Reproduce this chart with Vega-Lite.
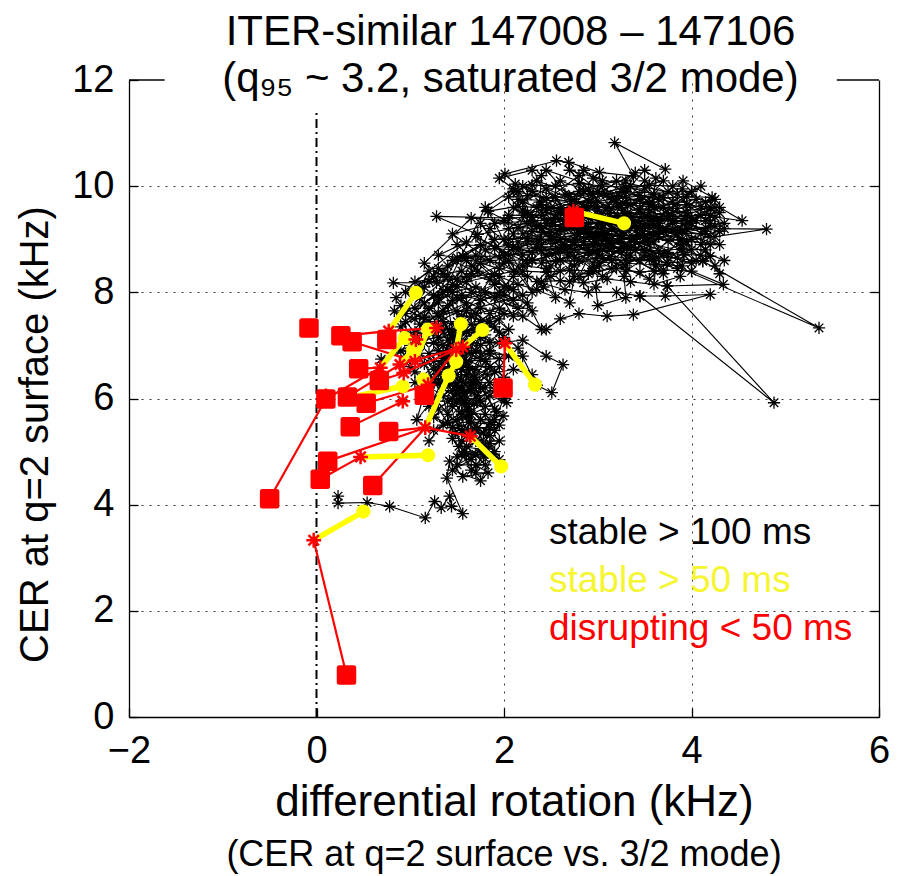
{
"$schema": "https://vega.github.io/schema/vega-lite/v6.json",
"width": 750, "height": 637,
"autosize": "none",
"padding": {"left": 129, "top": 80, "right": 24, "bottom": 159},
"background": "white",
"config": {"font": "Liberation Sans", "view": {"stroke": null}},
"title": {"text": "(CER at q=2 surface vs. 3/2 mode)", "orient": "bottom", "anchor": "middle", "frame": "group", "fontSize": 36, "fontWeight": "normal", "color": "#000", "offset": 14},
"datasets": {
"black": [
{"g":1,"x":0.23,"y":4.16},{"g":1,"x":0.23,"y":4.03},{"g":1,"x":0.54,"y":4.04},{"g":1,"x":0.78,"y":3.97},{"g":1,"x":1.16,"y":3.75},{"g":1,"x":1.26,"y":4.06},{"g":1,"x":1.33,"y":3.94},{"g":1,"x":1.42,"y":4.16},{"g":1,"x":1.44,"y":3.97},{"g":1,"x":1.56,"y":3.83},{"g":1,"x":1.39,"y":4.5},{"g":1,"x":1.42,"y":4.82},{"g":1,"x":1.56,"y":4.53},{"g":1,"x":1.83,"y":4.6},{"g":1,"x":1.7,"y":4.75},{"g":1,"x":1.6,"y":4.95},{"g":1,"x":1.75,"y":5.05},{"g":1,"x":1.52,"y":5.1},{"g":1,"x":1.65,"y":5.3},{"g":1,"x":1.85,"y":5.15},{"g":1,"x":1.95,"y":4.85},{"g":1,"x":1.78,"y":4.9},{"g":1,"x":1.62,"y":5.55},{"g":1,"x":1.48,"y":5.35},{"g":1,"x":1.58,"y":5.0},{"g":1,"x":1.72,"y":5.45},{"g":1,"x":1.9,"y":5.4},{"g":1,"x":1.99,"y":5.67},{"g":1,"x":1.8,"y":5.7},{"g":1,"x":1.55,"y":5.75},{"g":1,"x":1.4,"y":5.55},{"g":1,"x":1.3,"y":5.8},{"g":1,"x":1.45,"y":6.0},{"g":1,"x":1.68,"y":5.9},{"g":1,"x":1.85,"y":6.05},{"g":1,"x":2.03,"y":5.92},{"g":1,"x":1.95,"y":6.3},{"g":1,"x":1.75,"y":6.2},{"g":1,"x":1.55,"y":6.35},{"g":1,"x":1.35,"y":6.2},{"g":1,"x":1.2,"y":6.4},{"g":1,"x":1.07,"y":5.6},{"g":1,"x":1.25,"y":6.0},{"g":1,"x":1.4,"y":6.55},{"g":1,"x":1.62,"y":6.6},{"g":1,"x":1.82,"y":6.45},{"g":1,"x":2.1,"y":6.55},{"g":1,"x":2.3,"y":6.45},{"g":1,"x":2.05,"y":6.8},{"g":1,"x":1.85,"y":6.9},{"g":1,"x":1.65,"y":6.85},{"g":1,"x":1.45,"y":6.75},{"g":1,"x":1.25,"y":6.7},{"g":1,"x":1.1,"y":6.85},{"g":1,"x":1.0,"y":6.6},{"g":1,"x":1.15,"y":7.05},{"g":1,"x":1.35,"y":7.0},{"g":1,"x":1.55,"y":7.1},{"g":1,"x":1.75,"y":7.15},{"g":1,"x":1.95,"y":7.05},{"g":1,"x":2.2,"y":7.1},{"g":1,"x":2.45,"y":6.8},{"g":1,"x":2.63,"y":6.64},{"g":1,"x":2.51,"y":6.11},{"g":1,"x":2.35,"y":6.25},{"g":1,"x":2.15,"y":6.95},{"g":1,"x":1.9,"y":7.35},{"g":1,"x":1.65,"y":7.4},{"g":1,"x":1.42,"y":7.3},{"g":1,"x":1.2,"y":7.25},{"g":1,"x":1.0,"y":7.2},{"g":1,"x":0.83,"y":7.65},{"g":1,"x":1.05,"y":7.5},{"g":1,"x":1.3,"y":7.55},{"g":1,"x":1.5,"y":7.65},{"g":1,"x":1.7,"y":7.6},{"g":1,"x":1.95,"y":7.7},{"g":1,"x":2.2,"y":7.55},{"g":1,"x":2.4,"y":7.3},{"g":1,"x":2.25,"y":7.8},{"g":1,"x":2.0,"y":7.95},{"g":1,"x":1.75,"y":7.85},{"g":1,"x":1.55,"y":7.95},{"g":1,"x":1.3,"y":7.9},{"g":1,"x":1.1,"y":8.06},{"g":1,"x":0.82,"y":8.18},{"g":1,"x":1.28,"y":8.18},{"g":1,"x":1.5,"y":8.25},{"g":1,"x":1.56,"y":8.68},{"g":1,"x":1.72,"y":8.4},{"g":1,"x":1.95,"y":8.3},{"g":1,"x":2.15,"y":8.15},{"g":1,"x":2.35,"y":8.05},{"g":1,"x":2.55,"y":7.9},{"g":1,"x":2.45,"y":8.45},{"g":1,"x":2.2,"y":8.5},{"g":1,"x":1.95,"y":8.65},{"g":1,"x":1.8,"y":8.8},{"g":1,"x":2.05,"y":8.9},{"g":1,"x":2.3,"y":8.75},
{"g":2,"x":1.15,"y":6.15},{"g":2,"x":1.5,"y":6.45},{"g":2,"x":1.3,"y":6.9},{"g":2,"x":1.7,"y":6.55},{"g":2,"x":1.45,"y":5.85},{"g":2,"x":1.9,"y":6.15},{"g":2,"x":1.6,"y":5.65},{"g":2,"x":1.25,"y":5.4},{"g":2,"x":1.75,"y":5.95},{"g":2,"x":1.55,"y":6.95},{"g":2,"x":1.35,"y":7.45},{"g":2,"x":1.8,"y":7.2},{"g":2,"x":1.1,"y":7.4},{"g":2,"x":1.6,"y":7.8},{"g":2,"x":1.4,"y":7.1},{"g":2,"x":1.95,"y":7.5},{"g":2,"x":1.25,"y":6.55},{"g":2,"x":1.65,"y":6.25},{"g":2,"x":1.85,"y":5.55},{"g":2,"x":1.7,"y":5.2},{"g":2,"x":1.5,"y":4.9},{"g":2,"x":1.88,"y":4.95},{"g":2,"x":1.65,"y":4.65},{"g":2,"x":1.45,"y":5.25},{"g":2,"x":1.35,"y":6.05},{"g":2,"x":1.15,"y":6.65},{"g":2,"x":1.05,"y":6.95},{"g":2,"x":0.69,"y":6.74},{"g":2,"x":0.9,"y":6.9},{"g":2,"x":1.5,"y":7.45},{"g":2,"x":1.75,"y":7.0},{"g":2,"x":2.05,"y":7.3},{"g":2,"x":1.85,"y":7.6},{"g":2,"x":1.6,"y":7.25},{"g":2,"x":1.2,"y":7.7},{"g":2,"x":1.45,"y":8.0},{"g":2,"x":1.7,"y":8.1},{"g":2,"x":2.1,"y":7.85},{"g":2,"x":1.9,"y":8.15},{"g":2,"x":1.4,"y":7.75},{"g":2,"x":1.58,"y":6.1},{"g":2,"x":1.8,"y":6.7},{"g":2,"x":2.0,"y":6.4},{"g":2,"x":1.62,"y":5.8},{"g":2,"x":1.42,"y":6.3},{"g":2,"x":1.28,"y":5.95},{"g":2,"x":1.52,"y":5.5},{"g":2,"x":1.78,"y":5.35},{"g":2,"x":1.92,"y":5.75},{"g":2,"x":1.68,"y":6.4},{"g":2,"x":1.48,"y":6.65},{"g":2,"x":1.3,"y":7.15},{"g":2,"x":1.12,"y":7.1},{"g":2,"x":0.95,"y":7.45},{"g":2,"x":1.25,"y":7.95},{"g":2,"x":1.55,"y":8.4},{"g":2,"x":1.35,"y":8.35},{"g":2,"x":1.8,"y":8.0},{"g":2,"x":2.3,"y":7.65},{"g":2,"x":2.05,"y":8.1},{"g":2,"x":1.75,"y":8.55},{"g":2,"x":1.95,"y":8.45},{"g":2,"x":2.25,"y":8.3},
{"g":3,"x":1.2,"y":5.2},{"g":3,"x":1.6,"y":6.0},{"g":3,"x":1.35,"y":6.6},{"g":3,"x":1.95,"y":6.6},{"g":3,"x":1.5,"y":5.6},{"g":3,"x":1.7,"y":7.3},{"g":3,"x":1.05,"y":6.3},{"g":3,"x":1.85,"y":6.3},{"g":3,"x":1.4,"y":6.9},{"g":3,"x":2.2,"y":6.8},{"g":3,"x":1.6,"y":6.7},{"g":3,"x":1.3,"y":6.35},{"g":3,"x":1.75,"y":5.6},{"g":3,"x":1.55,"y":5.2},{"g":3,"x":1.95,"y":5.2},{"g":3,"x":1.65,"y":4.85},{"g":3,"x":1.45,"y":4.65},{"g":3,"x":1.75,"y":4.45},{"g":3,"x":1.9,"y":5.0},{"g":3,"x":1.55,"y":5.4},{"g":3,"x":1.25,"y":5.65},{"g":3,"x":1.65,"y":6.15},{"g":3,"x":1.2,"y":6.85},{"g":3,"x":1.5,"y":7.2},{"g":3,"x":1.85,"y":7.45},{"g":3,"x":1.35,"y":7.65},{"g":3,"x":1.65,"y":8.0},{"g":3,"x":2.15,"y":7.7},{"g":3,"x":1.9,"y":7.9},{"g":3,"x":1.45,"y":8.15},{"g":3,"x":1.15,"y":7.8},{"g":3,"x":0.95,"y":8.0},{"g":3,"x":1.4,"y":8.5},{"g":3,"x":1.7,"y":8.7},{"g":3,"x":2.4,"y":8.2},{"g":3,"x":2.6,"y":8.4},
{"g":4,"x":2.45,"y":7.3},{"g":4,"x":2.6,"y":7.5},{"g":4,"x":2.8,"y":7.6},{"g":4,"x":3.1,"y":7.55},{"g":4,"x":3.38,"y":7.58},{"g":4,"x":4.2,"y":7.96},{"g":4,"x":3.72,"y":7.93},{"g":4,"x":3.45,"y":7.93},{"g":4,"x":3.2,"y":8.0},{"g":4,"x":2.9,"y":8.0},{"g":4,"x":2.65,"y":8.05},{"g":4,"x":2.35,"y":8.2},{"g":4,"x":2.6,"y":8.22},{"g":4,"x":2.85,"y":8.18},{"g":4,"x":3.1,"y":8.25},{"g":4,"x":3.35,"y":8.2},{"g":4,"x":3.74,"y":8.12},{"g":4,"x":4.34,"y":8.15},{"g":4,"x":4.0,"y":8.4},{"g":4,"x":3.7,"y":8.42},{"g":4,"x":3.45,"y":8.38},{"g":4,"x":3.2,"y":8.45},{"g":4,"x":2.95,"y":8.4},{"g":4,"x":2.7,"y":8.42},{"g":4,"x":2.45,"y":8.38},{"g":4,"x":2.2,"y":8.4},{"g":4,"x":2.05,"y":8.6},{"g":4,"x":2.3,"y":8.62},{"g":4,"x":2.55,"y":8.58},{"g":4,"x":2.8,"y":8.6},{"g":4,"x":3.05,"y":8.65},{"g":4,"x":3.3,"y":8.6},{"g":4,"x":3.55,"y":8.62},{"g":4,"x":3.74,"y":8.56},{"g":4,"x":4.12,"y":8.59},{"g":4,"x":4.2,"y":8.68},{"g":4,"x":4.15,"y":8.8},{"g":4,"x":3.9,"y":8.82},{"g":4,"x":3.65,"y":8.78},{"g":4,"x":3.4,"y":8.8},{"g":4,"x":3.15,"y":8.85},{"g":4,"x":2.9,"y":8.8},{"g":4,"x":2.65,"y":8.82},{"g":4,"x":2.4,"y":8.78},{"g":4,"x":2.15,"y":8.8},{"g":4,"x":1.9,"y":8.82},{"g":4,"x":2.0,"y":9.0},{"g":4,"x":2.25,"y":9.02},{"g":4,"x":2.5,"y":8.98},{"g":4,"x":2.75,"y":9.0},{"g":4,"x":3.0,"y":9.05},{"g":4,"x":3.25,"y":9.0},{"g":4,"x":3.5,"y":9.02},{"g":4,"x":3.75,"y":8.98},{"g":4,"x":4.0,"y":9.0},{"g":4,"x":4.25,"y":9.05},{"g":4,"x":4.8,"y":9.19},{"g":4,"x":4.35,"y":9.2},{"g":4,"x":4.15,"y":9.22},{"g":4,"x":3.9,"y":9.18},{"g":4,"x":3.65,"y":9.2},{"g":4,"x":3.4,"y":9.25},{"g":4,"x":3.15,"y":9.2},{"g":4,"x":2.9,"y":9.22},{"g":4,"x":2.65,"y":9.18},{"g":4,"x":2.4,"y":9.2},{"g":4,"x":2.15,"y":9.22},{"g":4,"x":1.72,"y":9.09},{"g":4,"x":1.28,"y":9.43},{"g":4,"x":2.05,"y":9.4},{"g":4,"x":2.3,"y":9.42},{"g":4,"x":2.5,"y":9.38},{"g":4,"x":2.75,"y":9.4},{"g":4,"x":3.0,"y":9.45},{"g":4,"x":3.25,"y":9.4},{"g":4,"x":3.5,"y":9.42},{"g":4,"x":3.75,"y":9.38},{"g":4,"x":4.0,"y":9.4},{"g":4,"x":4.25,"y":9.42},{"g":4,"x":4.54,"y":9.35},{"g":4,"x":4.3,"y":9.6},{"g":4,"x":4.1,"y":9.62},{"g":4,"x":3.85,"y":9.58},{"g":4,"x":3.6,"y":9.6},{"g":4,"x":3.35,"y":9.65},{"g":4,"x":3.1,"y":9.6},{"g":4,"x":2.85,"y":9.62},{"g":4,"x":2.6,"y":9.58},{"g":4,"x":2.35,"y":9.6},{"g":4,"x":2.15,"y":9.62},{"g":4,"x":1.83,"y":9.53},{"g":4,"x":2.05,"y":9.8},{"g":4,"x":2.25,"y":9.82},{"g":4,"x":2.45,"y":9.78},{"g":4,"x":2.7,"y":9.8},{"g":4,"x":2.95,"y":9.85},{"g":4,"x":3.2,"y":9.8},{"g":4,"x":3.45,"y":9.82},{"g":4,"x":3.7,"y":9.78},{"g":4,"x":3.95,"y":9.8},{"g":4,"x":4.22,"y":9.79},{"g":4,"x":3.91,"y":10.1},{"g":4,"x":3.8,"y":10.0},{"g":4,"x":3.55,"y":10.02},{"g":4,"x":3.3,"y":9.98},{"g":4,"x":3.05,"y":10.0},{"g":4,"x":2.8,"y":10.05},{"g":4,"x":2.55,"y":10.0},{"g":4,"x":2.3,"y":10.02},{"g":4,"x":2.12,"y":10.04},{"g":4,"x":2.01,"y":10.23},{"g":4,"x":2.56,"y":10.48},{"g":4,"x":2.69,"y":10.45},{"g":4,"x":3.02,"y":10.26},{"g":4,"x":3.38,"y":10.19},{"g":4,"x":3.18,"y":10.82},{"g":4,"x":3.72,"y":10.32},
{"g":5,"x":2.1,"y":8.3},{"g":5,"x":2.2,"y":8.7},{"g":5,"x":2.1,"y":9.1},{"g":5,"x":2.25,"y":9.5},{"g":5,"x":2.15,"y":9.9},{"g":5,"x":2.4,"y":10.2},{"g":5,"x":2.38,"y":9.7},{"g":5,"x":2.45,"y":9.3},{"g":5,"x":2.35,"y":8.9},{"g":5,"x":2.5,"y":8.5},{"g":5,"x":2.42,"y":8.1},{"g":5,"x":2.7,"y":7.8},{"g":5,"x":2.75,"y":8.3},{"g":5,"x":2.68,"y":8.7},{"g":5,"x":2.78,"y":9.1},{"g":5,"x":2.72,"y":9.5},{"g":5,"x":2.8,"y":9.9},{"g":5,"x":2.85,"y":10.3},{"g":5,"x":3.05,"y":10.1},{"g":5,"x":2.98,"y":9.7},{"g":5,"x":3.08,"y":9.3},{"g":5,"x":2.95,"y":8.9},{"g":5,"x":3.02,"y":8.5},{"g":5,"x":2.98,"y":8.1},{"g":5,"x":3.0,"y":7.75},{"g":5,"x":3.3,"y":7.9},{"g":5,"x":3.28,"y":8.3},{"g":5,"x":3.35,"y":8.7},{"g":5,"x":3.25,"y":9.1},{"g":5,"x":3.32,"y":9.5},{"g":5,"x":3.3,"y":9.9},{"g":5,"x":3.5,"y":10.3},{"g":5,"x":3.62,"y":10.15},{"g":5,"x":3.58,"y":9.7},{"g":5,"x":3.65,"y":9.3},{"g":5,"x":3.55,"y":8.9},{"g":5,"x":3.62,"y":8.5},{"g":5,"x":3.6,"y":8.15},{"g":5,"x":3.88,"y":8.3},{"g":5,"x":3.92,"y":8.7},{"g":5,"x":3.85,"y":9.1},{"g":5,"x":3.95,"y":9.5},{"g":5,"x":3.9,"y":9.95},{"g":5,"x":4.15,"y":9.7},{"g":5,"x":4.2,"y":9.3},{"g":5,"x":4.1,"y":8.9},{"g":5,"x":4.25,"y":8.5},{"g":5,"x":4.3,"y":8.35},
{"g":6,"x":3.74,"y":8.56},{"g":6,"x":5.36,"y":7.33},{"g":6,"x":4.12,"y":8.59},
{"g":7,"x":3.45,"y":7.93},{"g":7,"x":4.88,"y":5.92},{"g":7,"x":3.74,"y":8.12},
{"g":8,"x":2.1,"y":9.9},{"g":8,"x":4.0,"y":9.3},{"g":8,"x":2.3,"y":8.6},{"g":8,"x":4.2,"y":9.6},{"g":8,"x":2.6,"y":9.2},{"g":8,"x":4.3,"y":8.9},{"g":8,"x":2.2,"y":10.0},{"g":8,"x":3.6,"y":8.4},{"g":8,"x":2.5,"y":9.6},{"g":8,"x":4.1,"y":9.1},{"g":8,"x":1.9,"y":9.3},{"g":8,"x":3.8,"y":9.5},{"g":8,"x":2.8,"y":8.3},{"g":8,"x":3.3,"y":10.1},{"g":8,"x":2.4,"y":8.9},{"g":8,"x":4.25,"y":9.25},{"g":8,"x":2.0,"y":8.7},{"g":8,"x":3.5,"y":8.8},{"g":8,"x":2.9,"y":9.7},{"g":8,"x":4.35,"y":8.6},
{"g":9,"x":1.56,"y":8.68},{"g":9,"x":1.9,"y":9.0},{"g":9,"x":1.6,"y":8.2},{"g":9,"x":2.1,"y":8.4},{"g":9,"x":1.75,"y":9.3},{"g":9,"x":2.3,"y":8.0},{"g":9,"x":1.83,"y":9.53},{"g":9,"x":2.6,"y":8.8},{"g":9,"x":1.5,"y":8.9},{"g":9,"x":2.0,"y":8.1},{"g":9,"x":2.4,"y":9.0},{"g":9,"x":1.65,"y":8.5},
{"g":10,"x":2.2,"y":9.7},{"g":10,"x":2.9,"y":9.3},{"g":10,"x":2.45,"y":8.7},{"g":10,"x":3.4,"y":9.0},{"g":10,"x":2.7,"y":9.65},{"g":10,"x":3.6,"y":9.85},{"g":10,"x":3.1,"y":8.95},{"g":10,"x":3.85,"y":8.65},{"g":10,"x":3.2,"y":9.35},{"g":10,"x":2.35,"y":9.25},{"g":10,"x":2.95,"y":8.55},{"g":10,"x":3.7,"y":9.15},{"g":10,"x":4.05,"y":9.75},{"g":10,"x":3.45,"y":9.55},{"g":10,"x":2.6,"y":10.1},{"g":10,"x":2.1,"y":9.6},{"g":10,"x":2.75,"y":8.9},{"g":10,"x":3.55,"y":8.25},{"g":10,"x":3.95,"y":8.95},{"g":10,"x":3.3,"y":9.7},{"g":10,"x":2.5,"y":9.05},{"g":10,"x":3.15,"y":8.45},{"g":10,"x":3.8,"y":9.35},{"g":10,"x":4.2,"y":9.05},{"g":10,"x":3.5,"y":9.95},{"g":10,"x":2.85,"y":9.5},{"g":10,"x":2.25,"y":8.95},{"g":10,"x":3.05,"y":9.15},{"g":10,"x":3.75,"y":8.75},{"g":10,"x":4.1,"y":9.45},{"g":10,"x":3.35,"y":8.85},{"g":10,"x":2.65,"y":9.35},{"g":10,"x":2.05,"y":9.2},{"g":10,"x":2.8,"y":10.2},{"g":10,"x":3.25,"y":9.6},{"g":10,"x":3.9,"y":9.0},{"g":10,"x":4.3,"y":9.15},{"g":10,"x":3.6,"y":9.4},{"g":10,"x":2.95,"y":9.05},{"g":10,"x":2.4,"y":9.45},{"g":10,"x":3.1,"y":9.85},{"g":10,"x":3.7,"y":9.6},{"g":10,"x":4.0,"y":8.8},{"g":10,"x":3.45,"y":8.6},{"g":10,"x":2.9,"y":8.75},{"g":10,"x":2.3,"y":9.35},{"g":10,"x":2.55,"y":9.8},{"g":10,"x":3.2,"y":10.1},{"g":10,"x":3.85,"y":9.85},{"g":10,"x":4.15,"y":9.35},{"g":10,"x":3.55,"y":9.1},{"g":10,"x":2.75,"y":8.5},{"g":10,"x":2.15,"y":8.95},{"g":10,"x":2.6,"y":9.5},{"g":10,"x":3.4,"y":9.3},{"g":10,"x":3.95,"y":9.2},{"g":10,"x":3.3,"y":8.4},{"g":10,"x":2.85,"y":9.15},{"g":10,"x":2.45,"y":9.95},{"g":10,"x":3.0,"y":9.55},{"g":10,"x":3.65,"y":9.05},{"g":10,"x":4.05,"y":8.6},{"g":10,"x":3.5,"y":8.7},{"g":10,"x":3.05,"y":8.3},{"g":10,"x":2.55,"y":8.95},{"g":10,"x":2.2,"y":9.45},{"g":10,"x":2.75,"y":9.75},{"g":10,"x":3.35,"y":10.0},{"g":10,"x":3.8,"y":9.3},{"g":10,"x":4.25,"y":9.6},{"g":10,"x":3.6,"y":8.95},{"g":10,"x":3.0,"y":8.8},{"g":10,"x":2.4,"y":8.55},{"g":10,"x":2.85,"y":9.9},{"g":10,"x":3.45,"y":9.2},
{"g":11,"x":1.3,"y":6.45},{"g":11,"x":1.7,"y":6.05},{"g":11,"x":1.5,"y":6.8},{"g":11,"x":1.9,"y":6.5},{"g":11,"x":1.4,"y":5.95},{"g":11,"x":1.8,"y":5.85},{"g":11,"x":1.6,"y":6.45},{"g":11,"x":1.2,"y":6.2},{"g":11,"x":1.55,"y":5.9},{"g":11,"x":1.75,"y":6.75},{"g":11,"x":1.45,"y":7.0},{"g":11,"x":1.85,"y":7.05},{"g":11,"x":1.3,"y":7.35},{"g":11,"x":1.65,"y":7.55},{"g":11,"x":1.95,"y":7.25},{"g":11,"x":1.5,"y":7.9},{"g":11,"x":1.75,"y":7.7},{"g":11,"x":2.1,"y":7.55},{"g":11,"x":1.85,"y":8.25},{"g":11,"x":1.6,"y":8.6},{"g":11,"x":2.0,"y":8.55},{"g":11,"x":1.4,"y":8.05},{"g":11,"x":1.15,"y":7.55},{"g":11,"x":1.55,"y":7.35},{"g":11,"x":1.25,"y":7.05},{"g":11,"x":1.6,"y":6.9},{"g":11,"x":1.35,"y":6.75},{"g":11,"x":1.7,"y":6.35},{"g":11,"x":1.45,"y":6.15},{"g":11,"x":1.8,"y":6.2},{"g":11,"x":1.55,"y":5.7},{"g":11,"x":1.7,"y":5.4},{"g":11,"x":1.45,"y":5.45},{"g":11,"x":1.85,"y":5.3},{"g":11,"x":1.6,"y":5.1},{"g":11,"x":1.8,"y":4.75},{"g":11,"x":1.5,"y":4.75},{"g":11,"x":1.7,"y":4.95},{"g":11,"x":1.9,"y":5.6},{"g":11,"x":2.0,"y":6.0},{"g":11,"x":1.65,"y":5.7},{"g":11,"x":1.35,"y":5.5},{"g":11,"x":1.2,"y":5.85},{"g":11,"x":1.5,"y":6.25},{"g":11,"x":1.05,"y":6.5},{"g":11,"x":0.95,"y":6.8},{"g":11,"x":1.25,"y":7.25},{"g":11,"x":1.05,"y":7.7},{"g":11,"x":1.35,"y":8.0},{"g":11,"x":1.6,"y":8.3},
{"g":12,"x":2.3,"y":9.9},{"g":12,"x":3.9,"y":8.5},{"g":12,"x":2.6,"y":8.6},{"g":12,"x":4.1,"y":10.0},{"g":12,"x":2.9,"y":8.35},{"g":12,"x":3.4,"y":10.25},{"g":12,"x":2.2,"y":9.1},{"g":12,"x":4.3,"y":9.5},{"g":12,"x":2.7,"y":10.3},{"g":12,"x":3.6,"y":8.6},{"g":12,"x":2.15,"y":9.75},{"g":12,"x":3.95,"y":9.65},{"g":12,"x":2.5,"y":8.3},{"g":12,"x":3.2,"y":9.7},{"g":12,"x":4.2,"y":8.9},{"g":12,"x":2.45,"y":9.55},{"g":12,"x":3.7,"y":10.1},{"g":12,"x":3.0,"y":8.7},{"g":12,"x":2.05,"y":9.45},{"g":12,"x":3.55,"y":9.5},{"g":12,"x":4.0,"y":8.55},{"g":12,"x":2.75,"y":9.2},{"g":12,"x":3.3,"y":8.5},{"g":12,"x":2.35,"y":10.1},{"g":12,"x":3.85,"y":9.15},{"g":12,"x":2.65,"y":8.9},{"g":12,"x":3.45,"y":9.75},{"g":12,"x":4.15,"y":9.15},{"g":12,"x":2.9,"y":9.95},{"g":12,"x":3.15,"y":8.6},{"g":12,"x":2.25,"y":9.3},{"g":12,"x":3.75,"y":9.9},{"g":12,"x":2.55,"y":8.75},{"g":12,"x":3.35,"y":9.35},{"g":12,"x":4.05,"y":9.35},{"g":12,"x":2.95,"y":10.15},{"g":12,"x":3.65,"y":8.65},{"g":12,"x":2.8,"y":9.3},{"g":12,"x":2.1,"y":8.85},{"g":12,"x":3.5,"y":9.25},{"g":12,"x":4.25,"y":9.75},{"g":12,"x":3.05,"y":9.4},{"g":12,"x":2.4,"y":9.65},{"g":12,"x":3.9,"y":8.9},{"g":12,"x":2.7,"y":8.2},{"g":12,"x":3.25,"y":9.9},{"g":12,"x":3.8,"y":9.7},{"g":12,"x":2.6,"y":9.0},{"g":12,"x":3.1,"y":9.1},{"g":12,"x":4.1,"y":8.7},{"g":12,"x":2.35,"y":8.85},{"g":12,"x":3.4,"y":8.95},{"g":12,"x":2.85,"y":9.6},{"g":12,"x":3.6,"y":9.25},{"g":12,"x":2.2,"y":9.55},{"g":12,"x":3.7,"y":8.35},{"g":12,"x":3.0,"y":9.9},{"g":12,"x":2.5,"y":9.25},{"g":12,"x":3.95,"y":9.45},{"g":12,"x":3.25,"y":8.75},{"g":12,"x":2.45,"y":10.3},{"g":12,"x":3.55,"y":9.65},{"g":12,"x":4.35,"y":9.3},{"g":12,"x":2.75,"y":8.65},{"g":12,"x":3.15,"y":9.75},{"g":12,"x":3.85,"y":8.45},{"g":12,"x":2.3,"y":9.15},{"g":12,"x":3.45,"y":9.05},{"g":12,"x":2.95,"y":8.45},{"g":12,"x":4.0,"y":9.9},{"g":12,"x":2.65,"y":9.85},{"g":12,"x":3.3,"y":9.2},{"g":12,"x":2.05,"y":9.0},{"g":12,"x":3.75,"y":9.45},{"g":12,"x":2.85,"y":8.95},{"g":12,"x":3.5,"y":10.1},{"g":12,"x":4.2,"y":9.45},{"g":12,"x":2.55,"y":9.4},{"g":12,"x":3.1,"y":8.85},{"g":12,"x":3.65,"y":9.75},
{"g":13,"x":1.1,"y":7.9},{"g":13,"x":1.7,"y":6.3},{"g":13,"x":1.3,"y":7.6},{"g":13,"x":1.9,"y":5.8},{"g":13,"x":1.45,"y":7.15},{"g":13,"x":1.15,"y":6.0},{"g":13,"x":1.75,"y":7.85},{"g":13,"x":1.55,"y":6.55},{"g":13,"x":2.0,"y":7.15},{"g":13,"x":1.25,"y":8.3},{"g":13,"x":1.85,"y":6.6},{"g":13,"x":1.4,"y":5.7},{"g":13,"x":1.65,"y":7.05},{"g":13,"x":1.05,"y":7.25},{"g":13,"x":1.95,"y":8.0},{"g":13,"x":1.5,"y":6.1},{"g":13,"x":1.8,"y":5.1},{"g":13,"x":1.35,"y":6.85},{"g":13,"x":1.6,"y":7.65},{"g":13,"x":2.2,"y":7.95},{"g":13,"x":1.45,"y":8.6},{"g":13,"x":1.75,"y":8.9},{"g":13,"x":1.2,"y":8.2},{"g":13,"x":1.9,"y":8.35},{"g":13,"x":1.55,"y":7.55},{"g":13,"x":1.3,"y":6.55},{"g":13,"x":1.85,"y":6.85},{"g":13,"x":1.6,"y":5.35},{"g":13,"x":1.4,"y":6.35},{"g":13,"x":1.0,"y":7.0},{"g":13,"x":1.5,"y":8.65},{"g":13,"x":2.05,"y":8.7},{"g":13,"x":1.7,"y":9.05},{"g":13,"x":2.25,"y":8.55},{"g":13,"x":1.85,"y":9.2},{"g":13,"x":1.65,"y":8.35},{"g":13,"x":2.1,"y":8.05},{"g":13,"x":1.45,"y":7.85},{"g":13,"x":1.2,"y":7.45},{"g":13,"x":0.9,"y":7.75},{"g":13,"x":1.35,"y":7.25},{"g":13,"x":1.7,"y":6.9},{"g":13,"x":1.95,"y":6.75},{"g":13,"x":1.55,"y":6.2},{"g":13,"x":1.25,"y":6.3},{"g":13,"x":1.6,"y":5.9},{"g":13,"x":1.85,"y":5.45},{"g":13,"x":1.7,"y":4.6},{"g":13,"x":1.55,"y":4.95},{"g":13,"x":1.8,"y":5.0},{"g":13,"x":1.95,"y":5.5},{"g":13,"x":1.65,"y":5.55},{"g":13,"x":1.45,"y":6.45},{"g":13,"x":1.75,"y":7.45},{"g":13,"x":2.0,"y":7.6},{"g":13,"x":1.3,"y":8.45},{"g":13,"x":1.15,"y":8.1},
{"g":14,"x":0.85,"y":7.9},{"g":14,"x":1.2,"y":8.4},{"g":14,"x":0.95,"y":7.6},{"g":14,"x":1.4,"y":8.3},{"g":14,"x":1.05,"y":8.2},{"g":14,"x":1.6,"y":8.95},{"g":14,"x":1.3,"y":8.7},{"g":14,"x":1.85,"y":8.6},{"g":14,"x":1.45,"y":9.1},{"g":14,"x":2.0,"y":9.35},{"g":14,"x":1.65,"y":9.4},{"g":14,"x":1.15,"y":8.55},{"g":14,"x":1.5,"y":8.1},{"g":14,"x":0.9,"y":7.35},{"g":14,"x":1.3,"y":7.8},{"g":14,"x":1.8,"y":9.6},{"g":14,"x":2.1,"y":9.95},{"g":14,"x":1.95,"y":10.15},{"g":14,"x":2.3,"y":10.3}
],
"rline": [
{"s":1,"x":-0.03,"y":3.33},{"s":1,"x":0.32,"y":0.79},
{"s":2,"x":-0.5,"y":4.11},{"s":2,"x":0.1,"y":5.99},{"s":2,"x":0.68,"y":6.58},
{"s":3,"x":0.26,"y":7.18},{"s":3,"x":0.77,"y":7.27},{"s":3,"x":0.75,"y":7.11},
{"s":4,"x":0.38,"y":7.07},{"s":4,"x":1.05,"y":6.7},
{"s":5,"x":0.45,"y":6.56},{"s":5,"x":0.68,"y":6.58},
{"s":6,"x":0.67,"y":6.34},{"s":6,"x":0.93,"y":6.48},{"s":6,"x":1.49,"y":6.92},
{"s":7,"x":0.33,"y":6.03},{"s":7,"x":0.89,"y":6.64},{"s":7,"x":1.56,"y":6.97},
{"s":8,"x":0.53,"y":5.91},{"s":8,"x":1.19,"y":6.26},{"s":8,"x":1.49,"y":6.92},
{"s":9,"x":1.15,"y":6.06},{"s":9,"x":1.19,"y":6.26},
{"s":10,"x":0.36,"y":5.47},{"s":10,"x":0.92,"y":5.95},
{"s":11,"x":0.77,"y":5.38},{"s":11,"x":1.16,"y":5.45},{"s":11,"x":1.64,"y":5.29},
{"s":12,"x":0.12,"y":4.82},{"s":12,"x":1.16,"y":5.45},
{"s":13,"x":0.6,"y":4.36},{"s":13,"x":1.16,"y":5.45},
{"s":14,"x":0.04,"y":4.48},{"s":14,"x":0.47,"y":4.9},
{"s":15,"x":1.99,"y":6.2},{"s":15,"x":2.01,"y":7.04},
{"s":16,"x":2.75,"y":9.41},{"s":16,"x":2.74,"y":9.53},
{"s":17,"x":0.77,"y":7.27},{"s":17,"x":1.28,"y":7.33}
],
"yline": [
{"s":1,"x":-0.03,"y":3.33},{"s":1,"x":0.5,"y":3.87},
{"s":2,"x":0.77,"y":7.27},{"s":2,"x":1.06,"y":7.99},
{"s":3,"x":0.68,"y":6.58},{"s":3,"x":0.94,"y":7.14},
{"s":4,"x":0.89,"y":6.64},{"s":4,"x":1.03,"y":6.92},
{"s":5,"x":1.05,"y":6.7},{"s":5,"x":1.19,"y":7.3},
{"s":6,"x":1.49,"y":6.92},{"s":6,"x":1.54,"y":7.4},
{"s":7,"x":1.56,"y":6.97},{"s":7,"x":1.77,"y":7.29},
{"s":8,"x":1.49,"y":6.92},{"s":8,"x":1.49,"y":6.69},
{"s":9,"x":1.16,"y":5.45},{"s":9,"x":1.41,"y":6.43},{"s":9,"x":1.49,"y":6.69},
{"s":10,"x":1.19,"y":6.26},{"s":10,"x":1.14,"y":6.36},
{"s":11,"x":0.36,"y":6.02},{"s":11,"x":0.92,"y":6.23},
{"s":12,"x":0.47,"y":4.9},{"s":12,"x":1.19,"y":4.93},
{"s":13,"x":1.64,"y":5.29},{"s":13,"x":1.97,"y":4.72},
{"s":14,"x":2.01,"y":7.04},{"s":14,"x":2.33,"y":6.26},
{"s":15,"x":2.74,"y":9.53},{"s":15,"x":3.28,"y":9.3}
],
"ycirc": [
{"x":1.06,"y":7.99},{"x":0.94,"y":7.14},{"x":1.19,"y":7.3},{"x":1.54,"y":7.4},{"x":1.77,"y":7.29},{"x":1.03,"y":6.92},{"x":1.49,"y":6.69},{"x":1.41,"y":6.43},{"x":1.14,"y":6.36},{"x":2.33,"y":6.26},{"x":1.19,"y":4.93},{"x":1.97,"y":4.72},{"x":0.5,"y":3.87},{"x":3.28,"y":9.3},{"x":0.92,"y":6.23}
],
"rsq": [
{"x":-0.08,"y":7.33},{"x":0.26,"y":7.18},{"x":0.38,"y":7.07},{"x":0.75,"y":7.11},{"x":0.45,"y":6.56},{"x":0.67,"y":6.34},{"x":0.1,"y":5.99},{"x":0.33,"y":6.03},{"x":0.53,"y":5.91},{"x":1.15,"y":6.06},{"x":0.36,"y":5.47},{"x":0.77,"y":5.38},{"x":0.12,"y":4.82},{"x":0.04,"y":4.48},{"x":0.6,"y":4.36},{"x":-0.5,"y":4.11},{"x":1.99,"y":6.2},{"x":0.32,"y":0.79},{"x":2.75,"y":9.41}
],
"rast": [
{"x":0.77,"y":7.27},{"x":1.28,"y":7.33},{"x":1.06,"y":7.11},{"x":1.49,"y":6.92},{"x":1.56,"y":6.97},{"x":2.01,"y":7.04},{"x":0.68,"y":6.58},{"x":0.89,"y":6.64},{"x":1.05,"y":6.7},{"x":0.93,"y":6.48},{"x":1.19,"y":6.26},{"x":0.92,"y":5.95},{"x":1.16,"y":5.45},{"x":1.64,"y":5.29},{"x":0.47,"y":4.9},{"x":-0.03,"y":3.33},{"x":2.74,"y":9.53},{"x":0.1,"y":6.05}
],
"one": [{"k": "annotation"}]
},
"layer": [
{"data": {"name": "black"},
 "mark": {"type": "line", "color": "#000", "strokeWidth": 1.1},
 "encoding": {
  "x": {"field": "x", "type": "quantitative", "scale": {"domain": [-2, 6], "nice": false, "zero": false},
   "axis": {"orient": "bottom", "values": [-2, 0, 2, 4, 6], "grid": false, "domain": true, "domainColor": "#000", "domainWidth": 1.3, "ticks": true, "tickSize": -9, "tickColor": "#000", "tickWidth": 1.3, "labels": true, "labelFontSize": 38, "labelColor": "#000", "labelPadding": 24, "labelFlush": false, "labelOverlap": false, "title": "differential rotation (kHz)", "titleFontSize": 44, "titleFontWeight": "normal", "titleColor": "#000", "titleX": 385, "titleY": 98, "titleBaseline": "alphabetic", "titleAlign": "center"}},
  "y": {"field": "y", "type": "quantitative", "scale": {"domain": [0, 12], "nice": false, "zero": false},
   "axis": {"orient": "left", "values": [0, 2, 4, 6, 8, 10, 12], "grid": false, "domain": true, "domainColor": "#000", "domainWidth": 1.3, "ticks": true, "tickSize": -9, "tickColor": "#000", "tickWidth": 1.3, "labelFontSize": 38, "labelColor": "#000", "labelPadding": 24, "labelFlush": false, "labelOverlap": false, "title": "CER at q=2 surface (kHz)", "titleFontSize": 40, "titleFontWeight": "normal", "titleColor": "#000", "titleX": -82, "titleY": 354, "titleAngle": -90, "titleBaseline": "alphabetic", "titleAlign": "center"}},
  "detail": {"field": "g", "type": "nominal"},
  "order": {"value": null}
 }},
{"data": {"name": "black"},
 "mark": {"type": "point", "shape": "M-1,0L1,0M0,-1L0,1M-0.7,-0.7L0.7,0.7M-0.7,0.7L0.7,-0.7", "filled": false, "stroke": "#000", "strokeWidth": 1.3, "size": 150, "opacity": 1},
 "encoding": {
  "x": {"field": "x", "type": "quantitative", "scale": {"domain": [-2, 6], "nice": false, "zero": false}, "axis": null},
  "y": {"field": "y", "type": "quantitative", "scale": {"domain": [0, 12], "nice": false, "zero": false}, "axis": null}
 }},
{"data": {"name": "one"},
 "mark": {"type": "rule", "color": "#000", "strokeWidth": 2, "strokeDash": [9, 4, 2, 4]},
 "encoding": {
  "x": {"datum": 0, "type": "quantitative", "scale": {"domain": [-2, 6], "nice": false, "zero": false},
   "axis": {"orient": "top", "values": [2, 4], "grid": true, "gridColor": "#000", "gridDash": [2, 6], "gridOpacity": 0.8, "gridWidth": 1, "domain": false, "ticks": false, "labels": false, "title": ["ITER-similar 147008 – 147106", "(q₉₅ ~ 3.2, saturated 3/2 mode)"], "titleFontSize": 42, "titleFontWeight": "normal", "titleColor": "#000", "titleX": 381, "titleY": -36, "titleBaseline": "alphabetic", "titleAlign": "center", "titleLineHeight": 47}},
  "y": {"datum": 0, "type": "quantitative", "scale": {"domain": [0, 12], "nice": false, "zero": false},
   "axis": {"orient": "right", "values": [2, 4, 6, 8, 10], "grid": true, "gridColor": "#000", "gridDash": [2, 6], "gridOpacity": 0.8, "gridWidth": 1, "domain": true, "domainColor": "#000", "domainWidth": 1.3, "ticks": true, "tickSize": -9, "tickColor": "#000", "tickWidth": 1.3, "labels": false, "title": null}},
  "y2": {"datum": 11.4}
 }},
{"data": {"name": "one"},
 "mark": {"type": "rule", "color": "#000", "strokeWidth": 1.3},
 "encoding": {"x": {"datum": -2, "type": "quantitative", "scale": {"domain": [-2, 6], "nice": false, "zero": false}, "axis": null}, "x2": {"datum": -1.62}, "y": {"datum": 12, "type": "quantitative", "scale": {"domain": [0, 12], "nice": false, "zero": false}, "axis": null}}},
{"data": {"name": "one"},
 "mark": {"type": "rule", "color": "#000", "strokeWidth": 1.3},
 "encoding": {"x": {"datum": 5.55, "type": "quantitative", "scale": {"domain": [-2, 6], "nice": false, "zero": false}, "axis": null}, "x2": {"datum": 6}, "y": {"datum": 12, "type": "quantitative", "scale": {"domain": [0, 12], "nice": false, "zero": false}, "axis": null}}},
{"data": {"name": "rline"},
 "mark": {"type": "line", "color": "#ff0000", "strokeWidth": 2.2},
 "encoding": {
  "x": {"field": "x", "type": "quantitative", "scale": {"domain": [-2, 6], "nice": false, "zero": false}, "axis": null},
  "y": {"field": "y", "type": "quantitative", "scale": {"domain": [0, 12], "nice": false, "zero": false}, "axis": null},
  "detail": {"field": "s", "type": "nominal"}, "order": {"value": null}}},
{"data": {"name": "yline"},
 "mark": {"type": "line", "color": "#ffff00", "strokeWidth": 5.5, "strokeCap": "round"},
 "encoding": {
  "x": {"field": "x", "type": "quantitative", "scale": {"domain": [-2, 6], "nice": false, "zero": false}, "axis": null},
  "y": {"field": "y", "type": "quantitative", "scale": {"domain": [0, 12], "nice": false, "zero": false}, "axis": null},
  "detail": {"field": "s", "type": "nominal"}, "order": {"value": null}}},
{"data": {"name": "ycirc"},
 "mark": {"type": "point", "shape": "circle", "filled": true, "color": "#ffff00", "size": 200, "opacity": 1},
 "encoding": {
  "x": {"field": "x", "type": "quantitative", "scale": {"domain": [-2, 6], "nice": false, "zero": false}, "axis": null},
  "y": {"field": "y", "type": "quantitative", "scale": {"domain": [0, 12], "nice": false, "zero": false}, "axis": null}}},
{"data": {"name": "rsq"},
 "mark": {"type": "point", "shape": "square", "filled": true, "fill": "#ff0000", "stroke": "#ff0000", "strokeWidth": 5, "strokeJoin": "round", "size": 210, "opacity": 1},
 "encoding": {
  "x": {"field": "x", "type": "quantitative", "scale": {"domain": [-2, 6], "nice": false, "zero": false}, "axis": null},
  "y": {"field": "y", "type": "quantitative", "scale": {"domain": [0, 12], "nice": false, "zero": false}, "axis": null}}},
{"data": {"name": "rast"},
 "mark": {"type": "point", "shape": "M-1,0L1,0M0,-1L0,1M-0.7,-0.7L0.7,0.7M-0.7,0.7L0.7,-0.7", "filled": false, "stroke": "#ff0000", "strokeWidth": 2.5, "size": 220, "opacity": 1},
 "encoding": {
  "x": {"field": "x", "type": "quantitative", "scale": {"domain": [-2, 6], "nice": false, "zero": false}, "axis": null},
  "y": {"field": "y", "type": "quantitative", "scale": {"domain": [0, 12], "nice": false, "zero": false}, "axis": null}}},
{"data": {"name": "one"},
 "mark": {"type": "text", "text": "stable > 100 ms", "align": "left", "baseline": "alphabetic", "fontSize": 37, "color": "#000"},
 "encoding": {"x": {"datum": 2.48, "type": "quantitative", "scale": {"domain": [-2, 6], "nice": false, "zero": false}, "axis": null}, "y": {"datum": 3.26, "type": "quantitative", "scale": {"domain": [0, 12], "nice": false, "zero": false}, "axis": null}}},
{"data": {"name": "one"},
 "mark": {"type": "text", "text": "stable > 50 ms", "align": "left", "baseline": "alphabetic", "fontSize": 37, "color": "#f5f531"},
 "encoding": {"x": {"datum": 2.48, "type": "quantitative", "scale": {"domain": [-2, 6], "nice": false, "zero": false}, "axis": null}, "y": {"datum": 2.36, "type": "quantitative", "scale": {"domain": [0, 12], "nice": false, "zero": false}, "axis": null}}},
{"data": {"name": "one"},
 "mark": {"type": "text", "text": "disrupting < 50 ms", "align": "left", "baseline": "alphabetic", "fontSize": 37, "color": "#ff0000"},
 "encoding": {"x": {"datum": 2.48, "type": "quantitative", "scale": {"domain": [-2, 6], "nice": false, "zero": false}, "axis": null}, "y": {"datum": 1.45, "type": "quantitative", "scale": {"domain": [0, 12], "nice": false, "zero": false}, "axis": null}}}
],
"resolve": {"axis": {"x": "independent", "y": "independent"}}
}
